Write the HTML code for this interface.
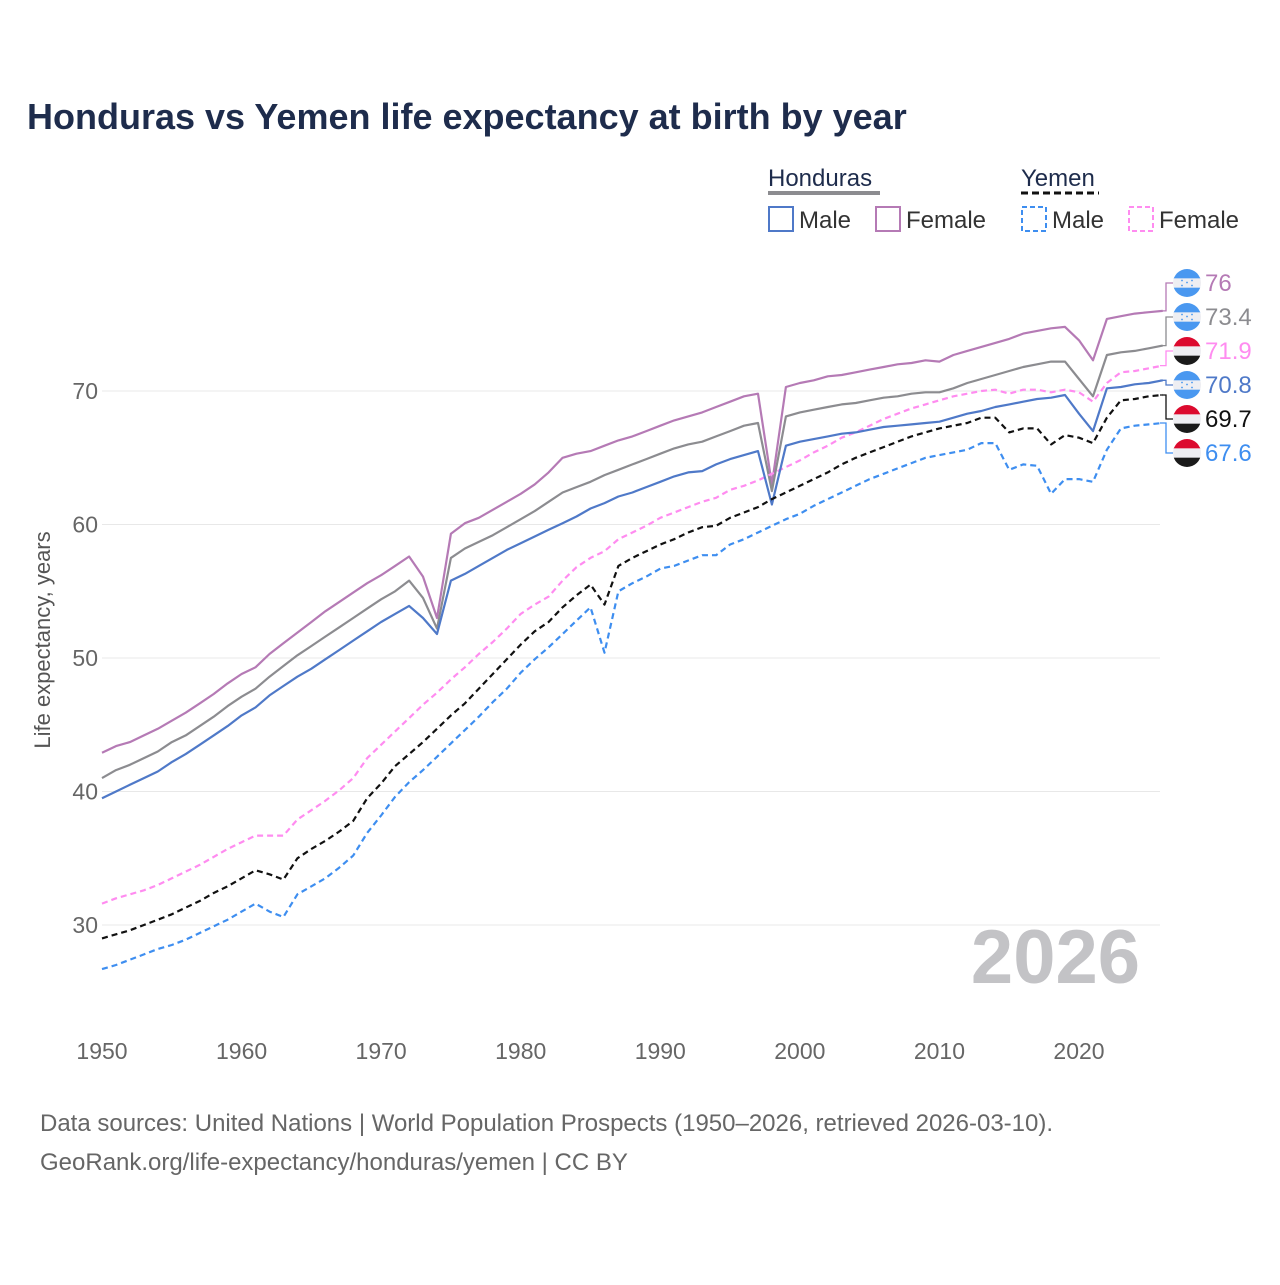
<!DOCTYPE html>
<html><head><meta charset="utf-8">
<style>
body{margin:0;background:#fff;font-family:"Liberation Sans",sans-serif;}
svg text{font-family:"Liberation Sans",sans-serif;}
</style></head>
<body>
<svg id="chart" width="1280" height="1280" viewBox="0 0 1280 1280">
<rect width="1280" height="1280" fill="#fff"/>
<text x="27" y="129" font-size="36" font-weight="bold" fill="#1e2c4c">Honduras vs Yemen life expectancy at birth by year</text>
<g id="legend">
 <text x="768" y="186" font-size="24" fill="#1e2c4c">Honduras</text>
 <line x1="768" y1="193" x2="880" y2="193" stroke="#8c8c90" stroke-width="4"/>
 <text x="1021" y="186" font-size="24" fill="#1e2c4c">Yemen</text>
 <line x1="1021" y1="193" x2="1099" y2="193" stroke="#111" stroke-width="3" stroke-dasharray="7,4"/>
 <g><rect x="769" y="207" width="24" height="24" fill="none" stroke="#4f79c8" stroke-width="2"/><text x="799" y="228" font-size="24" fill="#333">Male</text></g>
 <g><rect x="876" y="207" width="24" height="24" fill="none" stroke="#b57ab5" stroke-width="2"/><text x="906" y="228" font-size="24" fill="#333">Female</text></g>
 <g><rect x="1022" y="207" width="24" height="24" fill="none" stroke="#3e8ef0" stroke-width="2" stroke-dasharray="5,3"/><text x="1052" y="228" font-size="24" fill="#333">Male</text></g>
 <g><rect x="1129" y="207" width="24" height="24" fill="none" stroke="#ff8cf0" stroke-width="2" stroke-dasharray="5,3"/><text x="1159" y="228" font-size="24" fill="#333">Female</text></g>
</g>
<g id="grid"></g>
<g id="yticks"></g>
<g id="xticks"></g>
<text x="1140" y="983" text-anchor="end" font-size="76" font-weight="bold" fill="#c3c3c6">2026</text>
<text transform="translate(50,640) rotate(-90)" text-anchor="middle" font-size="22" fill="#555">Life expectancy, years</text>
<g id="series"></g>
<g id="endlabels"></g>
<text x="40" y="1131" font-size="24" fill="#666">Data sources: United Nations | World Population Prospects (1950–2026, retrieved 2026-03-10).</text>
<text x="40" y="1170" font-size="24" fill="#666">GeoRank.org/life-expectancy/honduras/yemen | CC BY</text>
</svg>
<script>
const years = [];
for (let y = 1950; y <= 2026; y++) years.push(y);
const hondurasFemale = [42.9,43.4,43.7,44.2,44.7,45.3,45.9,46.6,47.3,48.1,48.8,49.3,50.3,51.1,51.9,52.7,53.5,54.2,54.9,55.6,56.2,56.9,57.6,56.1,53.0,59.3,60.1,60.5,61.1,61.7,62.3,63.0,63.9,65.0,65.3,65.5,65.9,66.3,66.6,67.0,67.4,67.8,68.1,68.4,68.8,69.2,69.6,69.8,63.0,70.3,70.6,70.8,71.1,71.2,71.4,71.6,71.8,72.0,72.1,72.3,72.2,72.7,73.0,73.3,73.6,73.9,74.3,74.5,74.7,74.8,73.8,72.3,75.4,75.6,75.8,75.9,76];
const hondurasTotal = [41.0,41.6,42.0,42.5,43.0,43.7,44.2,44.9,45.6,46.4,47.1,47.7,48.6,49.4,50.2,50.9,51.6,52.3,53.0,53.7,54.4,55.0,55.8,54.5,52.2,57.5,58.2,58.7,59.2,59.8,60.4,61.0,61.7,62.4,62.8,63.2,63.7,64.1,64.5,64.9,65.3,65.7,66.0,66.2,66.6,67.0,67.4,67.6,62.5,68.1,68.4,68.6,68.8,69.0,69.1,69.3,69.5,69.6,69.8,69.9,69.9,70.2,70.6,70.9,71.2,71.5,71.8,72.0,72.2,72.2,70.9,69.6,72.7,72.9,73.0,73.2,73.4];
const hondurasMale = [39.5,40.0,40.5,41.0,41.5,42.2,42.8,43.5,44.2,44.9,45.7,46.3,47.2,47.9,48.6,49.2,49.9,50.6,51.3,52.0,52.7,53.3,53.9,53.0,51.8,55.8,56.3,56.9,57.5,58.1,58.6,59.1,59.6,60.1,60.6,61.2,61.6,62.1,62.4,62.8,63.2,63.6,63.9,64.0,64.5,64.9,65.2,65.5,61.5,65.9,66.2,66.4,66.6,66.8,66.9,67.1,67.3,67.4,67.5,67.6,67.7,68.0,68.3,68.5,68.8,69.0,69.2,69.4,69.5,69.7,68.3,67.0,70.2,70.3,70.5,70.6,70.8];
const yemenFemale = [31.6,32.0,32.3,32.6,33.0,33.5,34.0,34.5,35.1,35.7,36.2,36.7,36.7,36.7,37.9,38.6,39.3,40.1,41.0,42.5,43.5,44.5,45.5,46.5,47.4,48.4,49.3,50.3,51.2,52.2,53.3,54.0,54.6,55.8,56.8,57.5,58.0,58.9,59.4,59.9,60.5,60.9,61.3,61.7,62.0,62.6,62.9,63.3,63.8,64.3,64.8,65.4,65.9,66.5,66.9,67.4,67.9,68.3,68.7,69.0,69.3,69.6,69.8,70.0,70.1,69.8,70.1,70.1,69.9,70.1,69.9,69.2,70.6,71.4,71.5,71.7,71.9];
const yemenTotal = [29.0,29.3,29.6,30.0,30.4,30.8,31.3,31.8,32.4,32.9,33.5,34.1,33.8,33.4,35.0,35.7,36.3,37.0,37.8,39.5,40.6,41.9,42.8,43.7,44.7,45.7,46.6,47.7,48.8,49.9,51.0,52.0,52.7,53.8,54.7,55.5,54.0,56.9,57.5,58.0,58.5,58.9,59.4,59.8,59.9,60.5,60.9,61.3,61.9,62.4,62.9,63.4,63.9,64.5,65.0,65.4,65.8,66.2,66.6,66.9,67.2,67.4,67.6,68.0,68.0,66.9,67.2,67.2,66.0,66.7,66.5,66.1,68.0,69.3,69.4,69.6,69.7];
const yemenMale = [26.7,27.0,27.4,27.8,28.2,28.5,28.9,29.4,29.9,30.4,31.0,31.6,31.0,30.6,32.3,32.9,33.5,34.3,35.2,36.9,38.2,39.6,40.7,41.6,42.6,43.6,44.6,45.6,46.7,47.7,48.9,49.9,50.8,51.8,52.8,53.8,50.4,55.0,55.6,56.1,56.7,56.9,57.3,57.7,57.7,58.5,58.9,59.4,59.9,60.4,60.8,61.4,61.9,62.4,62.9,63.4,63.8,64.2,64.6,65.0,65.2,65.4,65.6,66.1,66.1,64.1,64.5,64.4,62.3,63.4,63.4,63.2,65.6,67.2,67.4,67.5,67.6];
const yTickValues = [30,40,50,60,70];
const xTickValues = [1950,1960,1970,1980,1990,2000,2010,2020];

const NS = "http://www.w3.org/2000/svg";
const xScale = yr => 102 + (yr - 1950) * (977 / 70);
const yScale = v => 391 + (70 - v) * 13.35;
function mk(tag, attrs, parent){const e=document.createElementNS(NS,tag);for(const k in attrs)e.setAttribute(k,attrs[k]);parent.appendChild(e);return e;}

const grid=document.getElementById('grid'), yt=document.getElementById('yticks'), xt=document.getElementById('xticks');
yTickValues.forEach(v=>{
  const l=mk('line',{x1:102,x2:1160,y1:yScale(v),y2:yScale(v),stroke:'#e8e8e8','stroke-width':1},grid);
  
  
  const t=mk('text',{x:98,y:yScale(v)+8,'text-anchor':'end','font-size':23,fill:'#666'},yt);
  t.textContent=v;
  
  
});
xTickValues.forEach(v=>{
  const t=mk('text',{x:xScale(v),y:1059,'text-anchor':'middle','font-size':23,fill:'#666'},xt);
  t.textContent=v;
  
  
});

const series=[
  {name:'honduras-female',data:hondurasFemale,color:'#b57ab5',dash:null,flag:'hn'},
  {name:'honduras-total',data:hondurasTotal,color:'#8c8c90',dash:null,flag:'hn'},
  {name:'yemen-female',data:yemenFemale,color:'#ff8cf0',dash:'6,4',flag:'ye'},
  {name:'honduras-male',data:hondurasMale,color:'#4f79c8',dash:null,flag:'hn'},
  {name:'yemen-total',data:yemenTotal,color:'#111111',dash:'6,4',flag:'ye'},
  {name:'yemen-male',data:yemenMale,color:'#3e8ef0',dash:'6,4',flag:'ye'}
];
const sg=document.getElementById('series'), lg=document.getElementById('endlabels');
series.forEach((s,i)=>{
  const d=s.data.map((v,j)=>(j?'L':'M')+xScale(years[j]).toFixed(1)+','+yScale(v).toFixed(1)).join(' ');
  const p=mk('path',{d:d,fill:'none',stroke:s.color,'stroke-width':2.2,'stroke-linejoin':'round'},sg);
  if(s.dash)p.setAttribute('stroke-dasharray',s.dash);
  
  
  const last=s.data[s.data.length-1];
  const ly=283+i*34, ey=yScale(last);
  const c=mk('path',{d:`M1160,${ey.toFixed(1)} H1166 V${ly} H1173`,fill:'none',stroke:s.color,'stroke-width':1.3},lg);
  
  
  const g=mk('g',{},lg);
  
  
  const cx=1187, r=14;
  mk('clipPath',{id:'cp'+i},g).appendChild(document.createElementNS(NS,'circle')).setAttribute('r',r);
  g.querySelector('circle').setAttribute('cx',cx);g.querySelector('circle').setAttribute('cy',ly);
  const cols=s.flag==='hn'?['#4a98f0','#eeeef2','#4a98f0']:['#dc0a2e','#eeeef2','#1a1a1a'];
  cols.forEach((col,k)=>mk('rect',{x:cx-r,y:ly-r+k*r*2/3,width:2*r,height:r*2/3+0.5,fill:col,'clip-path':`url(#cp${i})`},g));
  if(s.flag==='hn'){[[-5,-2],[5,-2],[0,0],[-5,3],[5,3]].forEach(p2=>mk('circle',{cx:cx+p2[0],cy:ly+p2[1]-0.5,r:0.9,fill:'#4a98f0'},g));}
  const t=mk('text',{x:1205,y:ly+8,'font-size':24,fill:s.color},lg);
  t.textContent=last;
  
  
});
</script>
</body></html>
